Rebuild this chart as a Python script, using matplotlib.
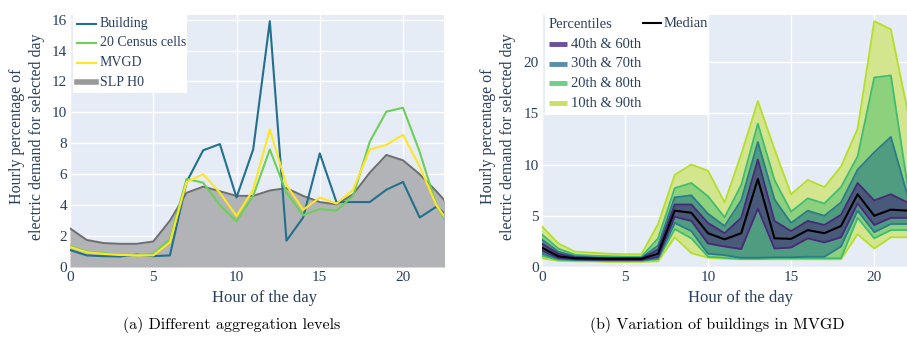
import numpy as np
import matplotlib.pyplot as plt
from matplotlib.lines import Line2D
from matplotlib.patches import Rectangle

W, H = 907, 339

# ---- panel (a): aggregation levels ----
hours_a = np.arange(24)
building = [1.1, 0.75, 0.7, 0.68, 0.8, 0.7, 0.75, 5.5, 7.55, 7.95, 4.5, 7.6,
            15.9, 1.7, 3.2, 7.35, 4.2, 4.2, 4.2, 5.0, 5.5, 3.2, 3.9, 3.0]
census = [1.35, 1.0, 0.9, 0.8, 0.75, 0.85, 1.8, 5.7, 5.45, 4.0, 2.95, 4.6,
          7.6, 4.8, 3.35, 3.75, 3.65, 4.6, 8.1, 10.05, 10.3, 7.45, 4.0, 2.2]
mvgd = [1.3, 0.95, 0.85, 0.78, 0.75, 0.75, 1.6, 5.5, 6.0, 4.8, 3.3, 5.0,
        8.9, 5.3, 3.7, 4.5, 4.1, 5.0, 7.6, 7.9, 8.55, 6.5, 4.0, 2.5]
slp_h0 = [2.5, 1.75, 1.55, 1.5, 1.5, 1.65, 3.0, 4.8, 5.2, 4.9, 4.6, 4.6,
          4.95, 5.1, 4.6, 4.2, 4.05, 4.7, 6.1, 7.25, 6.9, 6.0, 4.9, 3.7]

# ---- panel (b): percentiles of buildings in MVGD ----
hours_b = np.arange(23)
p10 = [0.85, 0.6, 0.55, 0.55, 0.5, 0.5, 0.5, 0.55, 2.9, 1.35, 0.9, 0.8,
       0.75, 0.75, 0.75, 0.75, 0.75, 0.75, 0.75, 3.2, 1.8, 2.9, 2.9]
p20 = [1.1, 0.7, 0.65, 0.62, 0.6, 0.6, 0.6, 0.75, 3.7, 2.8, 1.0, 0.9,
       0.8, 0.8, 0.85, 0.85, 0.85, 0.85, 0.85, 4.8, 2.8, 3.6, 3.6]
p30 = [1.3, 0.8, 0.7, 0.68, 0.65, 0.65, 0.65, 0.85, 4.3, 3.5, 1.3, 1.15,
       0.9, 0.9, 0.95, 0.95, 1.0, 1.0, 2.0, 5.5, 3.4, 4.2, 4.2]
p40 = [1.6, 0.9, 0.75, 0.72, 0.7, 0.7, 0.7, 1.0, 4.9, 4.5, 2.3, 2.0,
       1.75, 5.7, 1.8, 1.9, 2.8, 2.4, 2.9, 6.2, 4.1, 4.8, 4.8]
median = [1.9, 1.05, 0.85, 0.82, 0.8, 0.8, 0.8, 1.3, 5.5, 5.3, 3.3, 2.7,
          3.3, 8.6, 2.8, 2.75, 3.6, 3.3, 4.0, 7.1, 5.0, 5.6, 5.5]
p60 = [2.3, 1.3, 0.95, 0.9, 0.85, 0.85, 0.85, 1.7, 6.1, 6.1, 4.3, 3.3,
       4.8, 10.5, 4.5, 3.5, 4.5, 4.1, 5.1, 8.2, 6.5, 7.1, 6.3]
p70 = [2.7, 1.5, 1.05, 0.95, 0.9, 0.9, 0.9, 2.1, 6.8, 7.0, 5.2, 4.0,
       6.5, 12.2, 6.6, 4.3, 5.5, 5.0, 6.3, 9.5, 11.2, 12.7, 7.0]
p80 = [3.2, 1.8, 1.2, 1.1, 1.05, 1.0, 1.0, 2.8, 7.7, 8.2, 6.9, 4.85,
       8.0, 14.0, 8.5, 5.4, 6.7, 6.2, 7.8, 10.8, 18.5, 18.7, 8.0]
p90 = [4.0, 2.3, 1.5, 1.4, 1.3, 1.25, 1.25, 4.2, 9.0, 10.0, 9.4, 6.3,
       11.0, 16.2, 11.5, 7.1, 8.5, 7.8, 9.8, 13.5, 24.0, 23.2, 15.3]

band_labels = ["40th & 60th", "30th & 70th", "20th & 80th", "10th & 90th"]
band_lines = ["#482878", "#2c7a8c", "#3fbc73", "#b5de2b"]
band_fills = ["#48597a", "#4f9c80", "#8dd17c", "#d3e58d"]
band_legend = ["#6a4f9a", "#5a8ea6", "#6dd08a", "#c9e064"]

BG = "#e5ecf6"
TXT = "#2a3f5f"
SERIF = "Liberation Serif"

fig = plt.figure(figsize=(W / 100, H / 100), dpi=100)


def px(x):
    return x / W


def py(y):
    return 1 - y / H


def style(ax, xmax, ymax, ystep):
    ax.set_facecolor(BG)
    for s in ax.spines.values():
        s.set_visible(False)
    ax.set_xlim(0, xmax)
    ax.set_ylim(0, ymax)
    ax.set_xticks(np.arange(0, xmax, 5))
    ax.set_yticks(np.arange(0, ymax, ystep))
    ax.grid(True, color="white", lw=1)
    ax.set_axisbelow(True)
    ax.tick_params(length=0, labelsize=11, labelcolor=TXT, pad=2)
    ax.tick_params(axis="x", pad=3)
    for t in ax.get_xticklabels() + ax.get_yticklabels():
        t.set_fontfamily(SERIF)


axa = fig.add_axes([px(70), py(267), px(374), 252 / H])
axb = fig.add_axes([px(541.7), py(267), px(W - 541.7), 252 / H])
style(axa, 22.46, 16.3, 2)
style(axb, 21.97, 24.6, 5)

# panel (a)
axa.fill_between(hours_a, 0, slp_h0, color="#b2b3b7", lw=0, zorder=2)
axa.plot(hours_a, slp_h0, color="#6e6e6e", lw=1.4, zorder=3)
axa.plot(hours_a, building, color="#23708c", lw=1.5, zorder=4)
axa.plot(hours_a, census, color="#6ece58", lw=1.5, zorder=4)
axa.plot(hours_a, mvgd, color="#fde725", lw=1.5, zorder=4)

# panel (b): nested bands, outer first
lows = [p40, p30, p20, p10]
highs = [p60, p70, p80, p90]
for i in range(3, -1, -1):
    axb.fill_between(hours_b, lows[i], highs[i], color=band_fills[i], lw=0, zorder=2)
for i in range(3, -1, -1):
    axb.plot(hours_b, lows[i], color=band_lines[i], lw=1.3, zorder=3)
    axb.plot(hours_b, highs[i], color=band_lines[i], lw=1.3, zorder=3)
axb.plot(hours_b, median, color="black", lw=1.5, zorder=4)

# legend (a)
fig.add_artist(Rectangle((px(73), py(93)), px(114), 78 / H, transform=fig.transFigure,
                         facecolor="white", edgecolor="none", zorder=5))
legend_a = [("Building", "#23708c", 1.5), ("20 Census cells", "#6ece58", 1.5),
            ("MVGD", "#fde725", 1.5), ("SLP H0", "#9a9a9a", 4)]
for k, (lab, c, lw) in enumerate(legend_a):
    y = 23.5 + k * 19.5
    fig.add_artist(Line2D([px(77), px(96)], [py(y), py(y)], transform=fig.transFigure,
                          color=c, lw=lw, zorder=6))
    fig.text(px(100), py(y), lab, fontsize=10, family=SERIF, color=TXT,
             va="center", ha="left", zorder=7)

# legend (b)
fig.add_artist(Rectangle((px(545), py(115)), px(164), 100 / H, transform=fig.transFigure,
                         facecolor="white", edgecolor="none", zorder=5))
fig.text(px(549), py(24.5), "Percentiles", fontsize=10.5, family=SERIF, color=TXT,
         va="center", ha="left", zorder=7)
for k, lab in enumerate(band_labels):
    y = 44 + k * 19.7
    fig.add_artist(Line2D([px(549), px(567)], [py(y), py(y)], transform=fig.transFigure,
                          color=band_legend[k], lw=3.5, solid_capstyle="butt", zorder=6))
    fig.text(px(571), py(y), lab, fontsize=10.5, family=SERIF, color=TXT,
             va="center", ha="left", zorder=7)
fig.add_artist(Line2D([px(643), px(661)], [py(23), py(23)], transform=fig.transFigure,
                      color="black", lw=1.5, zorder=6))
fig.text(px(664), py(23.5), "Median", fontsize=10.5, family=SERIF, color=TXT,
         va="center", ha="left", zorder=7)

# axis titles
ylab = "Hourly percentage of\nelectric demand for selected day"
for xc in (27, 498):
    fig.text(px(xc), py(136.5), ylab, rotation=90, fontsize=11.5, family=SERIF,
             color=TXT, ha="center", va="center", multialignment="center", linespacing=1.3)
for xc in (265, 740):
    fig.text(px(xc), py(298), "Hour of the day", fontsize=12, family=SERIF,
             color=TXT, ha="center", va="center")

# captions
fig.text(px(232), py(325), "(a) Different aggregation levels", fontsize=11.5,
         family="cmr10", ha="center", va="center")
fig.text(px(717), py(325), "(b) Variation of buildings in MVGD", fontsize=11.5,
         family="cmr10", ha="center", va="center")

fig.savefig("out.png", dpi=100)
